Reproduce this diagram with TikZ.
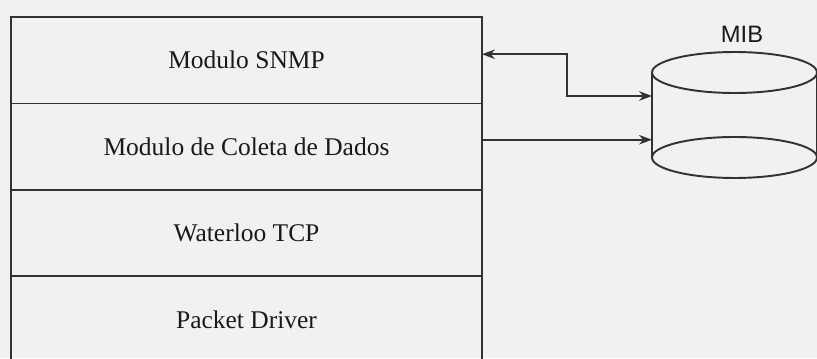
\documentclass[tikz,border=0pt]{standalone}
\usepackage{fontspec}
\setmainfont{Liberation Serif}
\newfontfamily\mibsans{Liberation Sans}
\usetikzlibrary{positioning,arrows.meta}

\definecolor{scanbg}{RGB}{241,241,239}
\definecolor{scanink}{RGB}{50,50,50}
\definecolor{scantext}{RGB}{25,25,25}

\begin{document}
\begin{tikzpicture}[
  x=0.02cm,
  y=-0.02cm,
  >={Stealth[length=2.6mm,width=1.9mm]},
  every node/.style={inner sep=0pt, outer sep=0pt},
  layer/.style={draw=scanink, line width=1.1pt, minimum width=9.42cm, minimum height=1.73cm,
    font=\fontsize{14.5}{17}\selectfont, text=scantext},
  mibbody/.style={draw=scanink, line width=1.1pt},
  miblabel/.style={font=\mibsans\fontsize{13.5}{15}\selectfont, text=scantext},
  flow/.style={draw=scanink, line width=1.1pt, ->},
  twoway/.style={draw=scanink, line width=1.1pt, <->}
]

  \path[use as bounding box] (0,0) rectangle (817,358);
  \fill[scanbg] (0,0) rectangle (817,358);
  \clip (0,0) rectangle (817,358);

  % Protocol stack
  \node[layer] (snmp) at (246.5,60.25) {Modulo SNMP};
  \node[layer, below=0pt of snmp] (coleta) {Modulo de Coleta de Dados};
  \node[layer, below=0pt of coleta] (tcp) {Waterloo TCP};
  \node[layer, below=0pt of tcp] (driver) {Packet Driver};

  % MIB cylinder
  \node[minimum width=3.3cm, minimum height=1.7cm] (mib) at (734.5,115) {};
  \draw[mibbody] (mib.north) ellipse [x radius=1.65cm, y radius=0.41cm];
  \draw[mibbody] (mib.south) ellipse [x radius=1.65cm, y radius=0.41cm];
  \draw[mibbody] (mib.north west) -- (mib.south west);
  \draw[mibbody] (mib.north east) -- (mib.south east);
  \node[miblabel] (miblbl) at (742,34) {MIB};

  % Arrows
  \coordinate (bend) at (567,96);
  \draw[twoway] ([yshift=0.12cm]snmp.east) -| (bend) -- (bend -| mib.west);
  \draw[flow] ([yshift=0.14cm]coleta.east) -- ([yshift=0.14cm]coleta.east -| mib.west);

\end{tikzpicture}
\end{document}
